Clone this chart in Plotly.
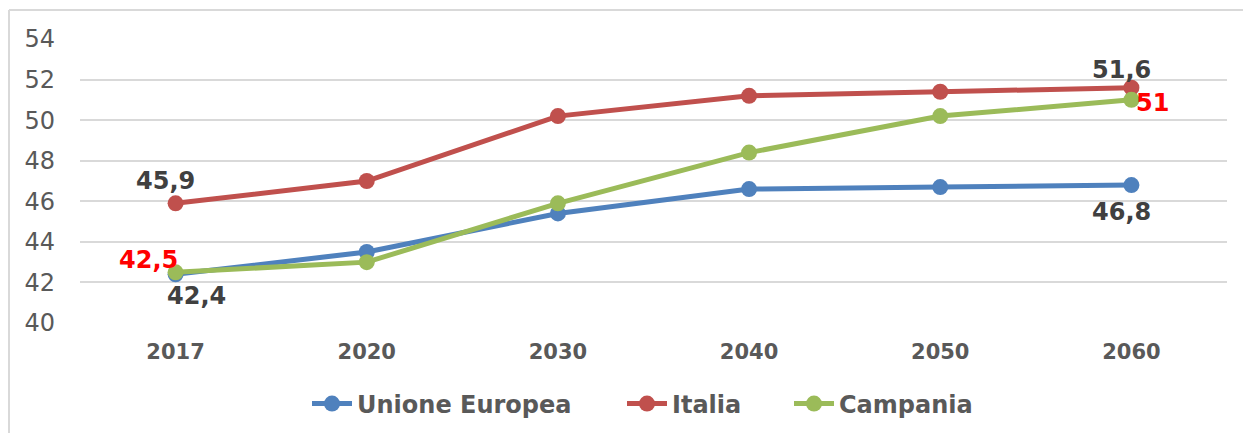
import plotly.graph_objects as go

years = ["2017", "2020", "2030", "2040", "2050", "2060"]
unione_europea = [42.4, 43.5, 45.4, 46.6, 46.7, 46.8]
italia = [45.9, 47.0, 50.2, 51.2, 51.4, 51.6]
campania = [42.5, 43.0, 45.9, 48.4, 50.2, 51.0]

y_ticks = [40, 42, 44, 46, 48, 50, 52, 54]

W, H = 1243, 433
L, R, T, B = 80, 16, 39, 110

def fmt(v):
    return f"{v:g}".replace(".", ",")

pw = W - L - R
ph = H - T - B
def px_x(px):
    return (px - L) / pw
def px_y(py):
    return (H - B - py) / ph

fig = go.Figure()
# name, values, colour, legend id, left pixel of the legend entry
series = [
    ("Unione Europea", unione_europea, "#4F81BD", "legend", 307),
    ("Italia", italia, "#C0504D", "legend2", 622),
    ("Campania", campania, "#9BBB59", "legend3", 789),
]
for name, vals, color, leg, _ in series:
    fig.add_trace(go.Scatter(
        x=years, y=vals, name=name, mode="lines+markers",
        line=dict(color=color, width=5),
        marker=dict(color=color, size=16),
        cliponaxis=False, legend=leg,
    ))

# value labels on the first and last points: (values, index, x shift, y shift, colour)
label_specs = [
    (italia, 0, -10, 22, "#404040"),
    (unione_europea, 0, 21, -22, "#404040"),
    (campania, 0, -27, 12, "#FF0000"),
    (italia, 5, -10, 18, "#404040"),
    (unione_europea, 5, -10, -27, "#404040"),
    (campania, 5, 21, -3, "#FF0000"),
]
for vals, i, dx, dy, col in label_specs:
    fig.add_annotation(
        x=i, y=vals[i], xref="x", yref="y", text=fmt(vals[i]), showarrow=False,
        xshift=dx, yshift=dy, xanchor="center", yanchor="middle",
        font=dict(family="DejaVu Sans", size=24, color=col, weight="bold"),
    )

fig.add_shape(type="line", xref="paper", yref="paper",
              x0=px_x(9), x1=px_x(W + 5), y0=px_y(10), y1=px_y(10),
              line=dict(color="#D9D9D9", width=2))
fig.add_shape(type="line", xref="paper", yref="paper",
              x0=px_x(9), x1=px_x(9), y0=px_y(10), y1=px_y(H + 5),
              line=dict(color="#D9D9D9", width=2))

legend_style = dict(orientation="h", yanchor="middle", xanchor="left",
                    font=dict(size=24, color="#595959", weight="bold"),
                    itemwidth=40, bgcolor="rgba(0,0,0,0)")
legends = {}
for _, _, _, leg, left in series:
    legends[leg] = dict(legend_style, x=px_x(left), y=px_y(404))

fig.update_layout(
    width=W, height=H,
    margin=dict(l=L, r=R, t=T, b=B, autoexpand=False),
    paper_bgcolor="white", plot_bgcolor="white",
    font=dict(family="DejaVu Sans", color="#595959"),
    showlegend=True,
    **legends,
    xaxis=dict(type="category", range=[-0.5, 5.5], showgrid=False, showline=False,
               zeroline=False, ticks="", ticklabelstandoff=14,
               tickfont=dict(size=21, color="#595959", weight="bold")),
    yaxis=dict(range=[40, 54], tickvals=y_ticks, showgrid=True, gridcolor="#D9D9D9",
               gridwidth=2, zeroline=False, showline=False, ticks="",
               ticklabelstandoff=24,
               tickfont=dict(size=24, color="#595959")),
)

fig.write_html("out.html")
